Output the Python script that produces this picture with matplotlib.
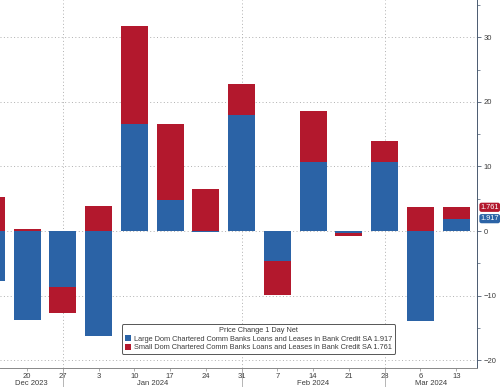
import matplotlib.pyplot as plt
import numpy as np
from matplotlib.ticker import MultipleLocator

plt.rcParams["font.family"] = ["Liberation Sans", "DejaVu Sans"]

# weekly dates, Dec 13 2023 .. Mar 13 2024
day_labels = ["13", "20", "27", "3", "10", "17", "24", "31", "7", "14", "21", "28", "6", "13"]
large_dom = [-7.7, -13.8, -8.6, -16.3, 16.6, 4.8, -0.1, 18.0, -4.6, 10.7, -0.3, 10.7, -13.9, 1.917]
small_dom = [5.3, 0.3, -4.1, 3.9, 15.1, 11.7, 6.5, 4.7, -5.3, 7.9, -0.4, 3.2, 3.8, 1.761]
months = ["Dec 2023", "Jan 2024", "Feb 2024", "Mar 2024"]
month_breaks = [2, 7, 11]  # last week of each month

blue = "#2b63a6"
red = "#b3182d"
grid_col = "#b0b0b0"
text_col = "#3c3c3c"

x = np.arange(len(day_labels))
large = np.array(large_dom)
small = np.array(small_dom)

# stack positives upward, negatives downward
small_base = np.where(np.sign(small) == np.sign(large), large, 0.0)

fig = plt.figure(figsize=(5, 3.87), dpi=100)
ax = fig.add_axes([0.0, 0.049, 0.954, 0.951])

w = 0.755
ax.bar(x, large, width=w, color=blue, zorder=3,
       label=f"Large Dom Chartered Comm Banks Loans and Leases in Bank Credit SA {large_dom[-1]:.3f}")
ax.bar(x, small, width=w, bottom=small_base, color=red, zorder=3,
       label=f"Small Dom Chartered Comm Banks Loans and Leases in Bank Credit SA {small_dom[-1]:.3f}")

ax.set_xlim(0.245, 13.58)
ax.set_ylim(-21.2, 35.76)

ax.yaxis.tick_right()
ax.yaxis.set_major_locator(MultipleLocator(10))
ax.yaxis.set_minor_locator(MultipleLocator(5))
ax.tick_params(axis="y", which="major", length=3, width=0.6, color="#4a5a70",
               labelsize=5.5, labelcolor=text_col, pad=1.5)
ax.tick_params(axis="y", which="minor", length=2, width=0.5, color="#4a5a70")
# first week sits mostly outside the view, so its label is off-chart
ax.set_xticks(x[1:])
ax.set_xticklabels(day_labels[1:])
ax.tick_params(axis="x", length=2, width=0.5, color="#888888",
               labelsize=5.5, labelcolor=text_col, pad=1.5)

for s in ["top", "left"]:
    ax.spines[s].set_visible(False)
ax.spines["right"].set_color("#4a5a70")
ax.spines["right"].set_linewidth(0.7)
ax.spines["bottom"].set_color("#888888")
ax.spines["bottom"].set_linewidth(0.7)

ax.grid(axis="y", which="major", linestyle=(0, (1, 2.5)), color=grid_col, linewidth=0.7, zorder=0)
for b in month_breaks:
    ax.axvline(b, linestyle=(0, (1, 2.5)), color=grid_col, linewidth=0.7, zorder=0)
    ax.plot([b, b], [0, -0.055], transform=ax.get_xaxis_transform(), color="#aaaaaa",
            linewidth=0.6, clip_on=False)

# month labels centred between separators
edges = [ax.get_xlim()[0]] + month_breaks + [ax.get_xlim()[1]]
for i, m in enumerate(months):
    ax.text((edges[i] + edges[i + 1]) / 2, -0.042, m, transform=ax.get_xaxis_transform(),
            ha="center", va="center", fontsize=5.5, color=text_col)

# last-value tags on the right axis
tags = [(large_dom[-1] + small_dom[-1], f"{small_dom[-1]:.3f}", red),
        (large_dom[-1], f"{large_dom[-1]:.3f}", blue)]
for yv, txt, col in tags:
    ax.annotate(txt, xy=(1.0, yv), xycoords=("axes fraction", "data"),
                xytext=(2.5, 0), textcoords="offset points", ha="left", va="center",
                fontsize=5.3, color="white", annotation_clip=False,
                bbox=dict(boxstyle="round,pad=0.15,rounding_size=0.3", fc=col, ec="none"))

leg = ax.legend(loc="center", bbox_to_anchor=(0.517, 0.124), bbox_transform=fig.transFigure,
                title="Price Change 1 Day Net", fontsize=5.3, title_fontsize=5.3,
                handlelength=0.9, handleheight=0.9, handletextpad=0.4,
                borderpad=0.35, labelspacing=0.15, fancybox=True, framealpha=1)
leg.get_frame().set_edgecolor("#555555")
leg.get_frame().set_linewidth(0.7)
for t in leg.get_texts():
    t.set_color(text_col)
leg.get_title().set_color(text_col)

fig.savefig("out.png", dpi=100)
